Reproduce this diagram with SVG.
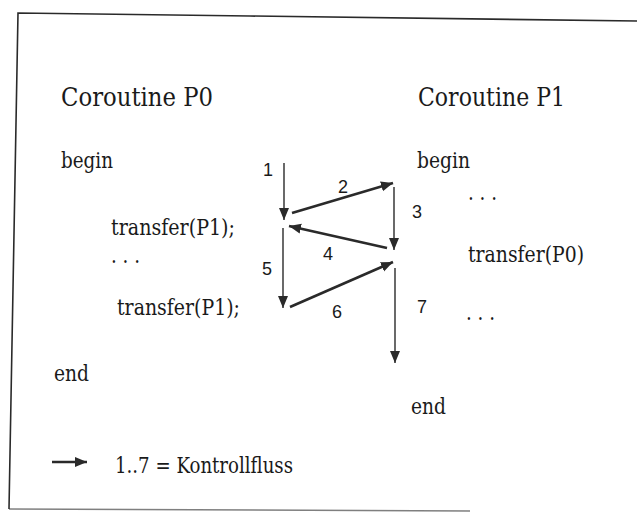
<svg xmlns="http://www.w3.org/2000/svg" width="637" height="516" viewBox="0 0 637 516">
<style>
.t{font-family:'DejaVu Serif',serif;fill:#1a1a1a}
.title{font-size:26px}
.code{font-size:22px}
.num{font-family:'Liberation Sans',Arial,sans-serif;font-size:18px;fill:#1a1a1a}
.thin{stroke:#2a2a2a;stroke-width:1.4;fill:none}
.thick{stroke:#2a2a2a;stroke-width:2.6;fill:none}
.frame{stroke:#2a2a2a;stroke-width:1.6;fill:none}
</style>
<defs>
<marker id="ah" markerUnits="userSpaceOnUse" markerWidth="14" markerHeight="12" viewBox="0 0 14 12" refX="12" refY="6" orient="auto">
<path d="M0,1 L12,6 L0,11 Z" fill="#2a2a2a"/>
</marker>
</defs>
<rect width="637" height="516" fill="#ffffff"/>
<g id="frame">
<path class="frame" d="M9,509 L18,13 L250,16 L637,21"/>
<path class="frame" d="M9,509 L470,511" stroke-opacity="0.6"/>
</g>
<g id="p0">
<text class="t title" x="61" y="106" textLength="152" lengthAdjust="spacingAndGlyphs">Coroutine P0</text>
<text class="t code" x="61" y="168" textLength="52" lengthAdjust="spacingAndGlyphs">begin</text>
<text class="t code" x="111" y="235" textLength="124" lengthAdjust="spacingAndGlyphs">transfer(P1);</text>
<text class="t code" x="111" y="263" textLength="29" lengthAdjust="spacingAndGlyphs">. . .</text>
<text class="t code" x="117" y="315" textLength="123" lengthAdjust="spacingAndGlyphs">transfer(P1);</text>
<text class="t code" x="54" y="381" textLength="35" lengthAdjust="spacingAndGlyphs">end</text>
</g>
<g id="p1">
<text class="t title" x="418" y="106" textLength="147" lengthAdjust="spacingAndGlyphs">Coroutine P1</text>
<text class="t code" x="417" y="168" textLength="53" lengthAdjust="spacingAndGlyphs">begin</text>
<text class="t code" x="468" y="200" textLength="29" lengthAdjust="spacingAndGlyphs">. . .</text>
<text class="t code" x="468" y="262" textLength="116" lengthAdjust="spacingAndGlyphs">transfer(P0)</text>
<text class="t code" x="466" y="320" textLength="29" lengthAdjust="spacingAndGlyphs">. . .</text>
<text class="t code" x="411" y="414" textLength="35" lengthAdjust="spacingAndGlyphs">end</text>
</g>
<g id="connectors">
<line class="thin" x1="284" y1="163" x2="284" y2="220" marker-end="url(#ah)"/>
<line class="thick" x1="292" y1="213" x2="393" y2="183" marker-end="url(#ah)"/>
<line class="thin" x1="394" y1="187" x2="394" y2="250" marker-end="url(#ah)"/>
<line class="thick" x1="387" y1="248" x2="289" y2="226" marker-end="url(#ah)"/>
<line class="thin" x1="283" y1="228" x2="283" y2="308" marker-end="url(#ah)"/>
<line class="thick" x1="290" y1="307" x2="393" y2="262" marker-end="url(#ah)"/>
<line class="thin" x1="395" y1="268" x2="395" y2="363" marker-end="url(#ah)"/>
</g>
<g id="labels">
<text class="num" x="263" y="176">1</text>
<text class="num" x="338" y="193">2</text>
<text class="num" x="412" y="218">3</text>
<text class="num" x="323" y="260">4</text>
<text class="num" x="262" y="275">5</text>
<text class="num" x="332" y="318">6</text>
<text class="num" x="417" y="313">7</text>
</g>
<g id="legend">
<line class="thick" x1="52" y1="462" x2="87" y2="462" marker-end="url(#ah)"/>
<text class="t code" x="115" y="473" textLength="178" lengthAdjust="spacingAndGlyphs">1..7 = Kontrollfluss</text>
</g>
</svg>
